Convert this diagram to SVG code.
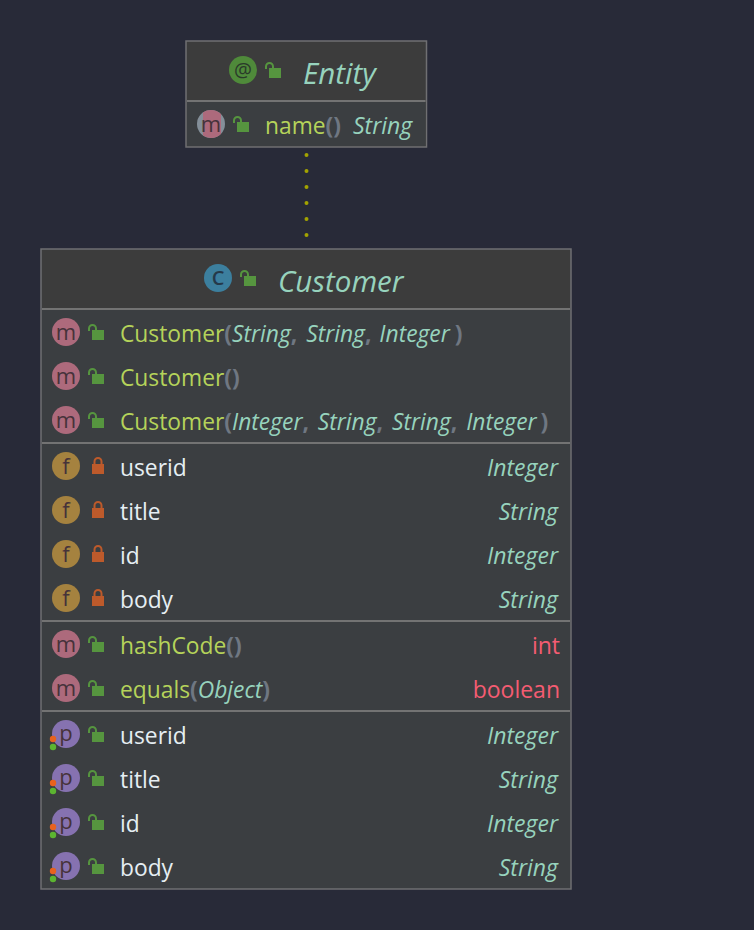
<svg xmlns="http://www.w3.org/2000/svg" width="754" height="930" viewBox="0 0 754 930">
<style>
text{font-family:"Open Sans","Noto Sans","Liberation Sans",sans-serif;font-size:23px}
.box{stroke:#6f6f72;stroke-width:1.5}
.head{fill:#3c3c3c}.body{fill:#3b3e41}
.sep{stroke:#737373;stroke-width:2}
.title{font-style:italic;font-size:29.500px;fill:#97d3bd}
.ty{font-style:italic;fill:#97d3bd}
.fn{fill:#b5d35a;font-size:22.800px}.nm{fill:#e6eef3;font-size:22.800px}.pr{fill:#6f7782;font-weight:700}
.kw{fill:#f45c72;text-anchor:end}
.r{text-anchor:end}
.ic{font-size:22px;text-anchor:middle;fill:#46323a}
.m{fill:#ad6a7c}.f{fill:#a5823f}.p{fill:#8672b0}
.lockg{fill:#56953f}.shg{fill:none;stroke:#56953f;stroke-width:2}
.lockr{fill:#bd5a2b}.shr{fill:none;stroke:#bd5a2b;stroke-width:2}
.conn{stroke:#a3a300;stroke-width:4;stroke-linecap:round;stroke-dasharray:0 16;fill:none}
</style>
<defs>
<g id="open"><rect class="lockg" x="4" y="5" width="12" height="10"/><path class="shg" d="M1 6V3.500a3.500 3.500 0 0 1 7 0V5"/></g>
<g id="closed"><rect class="lockr" x="4" y="6" width="12" height="10"/><path class="shr" d="M6.500 6V3.500a3.500 3.500 0 0 1 7 0V6"/></g>
<g id="dots"><circle cx="54" cy="5" r="3.200" fill="#e8621f"/><circle cx="54" cy="13" r="3.200" fill="#5cb531"/></g>
<clipPath id="mclip"><rect x="203" y="105" width="18" height="40"/></clipPath>
</defs>
<rect width="754" height="930" fill="#282a38"/>
<g id="connectors"><path class="conn" d="M306.500 155V236"/></g>
<g id="Entity">
<rect class="head box" x="186" y="41" width="240.500" height="106"/>
<rect class="body" x="187" y="102" width="238.500" height="44"/>
<line class="sep" x1="187" y1="101" x2="425.500" y2="101"/>
<circle cx="243" cy="70" r="14" fill="#4f8a3a"/><text class="ic" x="243" y="77" style="font-size:20px;fill:#2a3a2a">@</text>
<use href="#open" x="265" y="63"/>
<text class="title" x="303" y="84">Entity</text>
<circle cx="211" cy="124" r="14" fill="#848f99"/><circle cx="211" cy="124" r="14" class="m" clip-path="url(#mclip)"/>
<text class="ic" x="211" y="132">m</text>
<use href="#open" x="233" y="117"/>
<text class="fn" x="265" y="134">name<tspan class="pr">()</tspan></text>
<text class="ty" x="353" y="134">String</text>
</g>
<g id="Customer">
<rect class="body box" x="41" y="249" width="530" height="640"/>
<rect class="head" x="42" y="250" width="528" height="58"/>
<line class="sep" x1="42" y1="309" x2="570" y2="309"/>
<line class="sep" x1="42" y1="443" x2="570" y2="443"/>
<line class="sep" x1="42" y1="621" x2="570" y2="621"/>
<line class="sep" x1="42" y1="711" x2="570" y2="711"/>
<circle cx="218" cy="278" r="14" fill="#3c7f9e"/><text class="ic" x="218" y="285" style="font-size:20px;font-weight:600;fill:#25394a">C</text>
<use href="#open" x="240" y="271"/>
<text class="title" x="278" y="292">Customer</text>

<circle class="m" cx="66" cy="332" r="14"/><text class="ic" x="66" y="340">m</text><use href="#open" x="88" y="325"/>
<text class="fn" x="120" y="342">Customer<tspan class="pr">(</tspan><tspan class="ty">String</tspan><tspan class="pr">, </tspan><tspan class="ty" dx="3">String</tspan><tspan class="pr">, </tspan><tspan class="ty" dx="2">Integer</tspan><tspan class="pr" dx="5">)</tspan></text>
<circle class="m" cx="66" cy="376" r="14"/><text class="ic" x="66" y="384">m</text><use href="#open" x="88" y="369"/>
<text class="fn" x="120" y="386">Customer<tspan class="pr">()</tspan></text>
<circle class="m" cx="66" cy="420" r="14"/><text class="ic" x="66" y="428">m</text><use href="#open" x="88" y="413"/>
<text class="fn" x="120" y="430">Customer<tspan class="pr">(</tspan><tspan class="ty">Integer</tspan><tspan class="pr">, </tspan><tspan class="ty" dx="3">String</tspan><tspan class="pr">, </tspan><tspan class="ty" dx="3">String</tspan><tspan class="pr">, </tspan><tspan class="ty" dx="3">Integer</tspan><tspan class="pr" dx="4">)</tspan></text>

<circle class="f" cx="66" cy="466" r="14"/><text class="ic" x="66" y="474">f</text><use href="#closed" x="88" y="458"/>
<text class="nm" x="120" y="476">userid</text><text class="ty r" x="558" y="476">Integer</text>
<circle class="f" cx="66" cy="510" r="14"/><text class="ic" x="66" y="518">f</text><use href="#closed" x="88" y="502"/>
<text class="nm" x="120" y="520">title</text><text class="ty r" x="558" y="520">String</text>
<circle class="f" cx="66" cy="554" r="14"/><text class="ic" x="66" y="562">f</text><use href="#closed" x="88" y="546"/>
<text class="nm" x="120" y="564">id</text><text class="ty r" x="558" y="564">Integer</text>
<circle class="f" cx="66" cy="598" r="14"/><text class="ic" x="66" y="606">f</text><use href="#closed" x="88" y="590"/>
<text class="nm" x="120" y="608">body</text><text class="ty r" x="558" y="608">String</text>

<circle class="m" cx="66" cy="644" r="14"/><text class="ic" x="66" y="652">m</text><use href="#open" x="88" y="637"/>
<text class="fn" x="120" y="654">hashCode<tspan class="pr">()</tspan></text><text class="kw" x="560" y="654">int</text>
<circle class="m" cx="66" cy="688" r="14"/><text class="ic" x="66" y="696">m</text><use href="#open" x="88" y="681"/>
<text class="fn" x="120" y="698">equals<tspan class="pr">(</tspan><tspan class="ty">Object</tspan><tspan class="pr">)</tspan></text><text class="kw" x="560" y="698">boolean</text>

<circle class="p" cx="66" cy="734" r="14"/><text class="ic" x="66" y="741">p</text><use href="#dots" x="-1" y="734"/><use href="#open" x="88" y="727"/>
<text class="nm" x="120" y="744">userid</text><text class="ty r" x="558" y="744">Integer</text>
<circle class="p" cx="66" cy="778" r="14"/><text class="ic" x="66" y="785">p</text><use href="#dots" x="-1" y="778"/><use href="#open" x="88" y="771"/>
<text class="nm" x="120" y="788">title</text><text class="ty r" x="558" y="788">String</text>
<circle class="p" cx="66" cy="822" r="14"/><text class="ic" x="66" y="829">p</text><use href="#dots" x="-1" y="822"/><use href="#open" x="88" y="815"/>
<text class="nm" x="120" y="832">id</text><text class="ty r" x="558" y="832">Integer</text>
<circle class="p" cx="66" cy="866" r="14"/><text class="ic" x="66" y="873">p</text><use href="#dots" x="-1" y="866"/><use href="#open" x="88" y="859"/>
<text class="nm" x="120" y="876">body</text><text class="ty r" x="558" y="876">String</text>
</g>
</svg>
